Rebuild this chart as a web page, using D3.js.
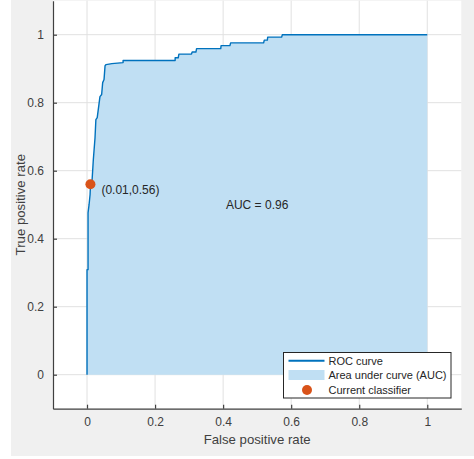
<!DOCTYPE html>
<html>
<head>
<meta charset="utf-8">
<script src="https://cdn.jsdelivr.net/npm/d3@7"></script>
<style>
  html, body { margin: 0; padding: 0; background: #fff; }
  svg { display: block; font-family: "Liberation Sans", Arial, Helvetica, sans-serif; }
</style>
</head>
<body>
<svg id="chart" width="474" height="459"></svg>
<script>
// ROC curve vertices (false positive rate, true positive rate)
const fpr = [0, 0, 0.003, 0.003, 0.006, 0.009, 0.0103, 0.015, 0.0185, 0.0235, 0.026, 0.03,
  0.038, 0.043, 0.046, 0.05, 0.053, 0.056, 0.073, 0.106, 0.106, 0.259, 0.259, 0.268, 0.270,
  0.307, 0.309, 0.320, 0.322, 0.393, 0.394, 0.420, 0.422, 0.519, 0.521, 0.530, 0.531,
  0.572, 0.574, 1];
const tpr = [0, 0.309, 0.309, 0.476, 0.50, 0.53, 0.56, 0.574, 0.632, 0.697, 0.75, 0.756,
  0.818, 0.824, 0.859, 0.868, 0.909, 0.912, 0.915, 0.918, 0.924, 0.924, 0.932, 0.932, 0.943,
  0.943, 0.949, 0.949, 0.959, 0.959, 0.968, 0.968, 0.976, 0.976, 0.984, 0.984, 0.993,
  0.993, 1.0, 1.0];

// Operating point of the current classifier
const currentPoint = [0.01, 0.56];
const aucValue = 0.96;

const xTicks = [0, 0.2, 0.4, 0.6, 0.8, 1];
const yTicks = [0, 0.2, 0.4, 0.6, 0.8, 1];
const xTickLabels = ["0", "0.2", "0.4", "0.6", "0.8", "1"];
const yTickLabels = ["0", "0.2", "0.4", "0.6", "0.8", "1"];
const legendLabels = ["ROC curve", "Area under curve (AUC)", "Current classifier"];

const svg = d3.select("#chart");

const colors = {
  figure: "#f0f0f0",
  grid: "#e1e1e1",
  axis: "#404040",
  text: "#404040",
  line: "#0072BD",
  area: "#c0dff3",
  point: "#D95319"
};

const x = d3.scaleLinear().domain([-0.1, 1.1]).range([53, 461.3]);
const y = d3.scaleLinear().domain([-0.1, 1.1]).range([408.7, 0.7]);

// figure background
svg.append("rect").attr("x", 11).attr("y", 0).attr("width", 463).attr("height", 456)
  .attr("fill", colors.figure);

// axes background
svg.append("rect")
  .attr("x", x(-0.1)).attr("y", y(1.1))
  .attr("width", x(1.1) - x(-0.1)).attr("height", y(-0.1) - y(1.1))
  .attr("fill", "#fff");

// grid
const grid = svg.append("g");
grid.selectAll(".gx").data(xTicks).join("line")
  .attr("x1", d => x(d)).attr("x2", d => x(d))
  .attr("y1", y(1.1)).attr("y2", y(-0.1))
  .attr("stroke", colors.grid).attr("stroke-width", 1);
grid.selectAll(".gy").data(yTicks).join("line")
  .attr("y1", d => y(d)).attr("y2", d => y(d))
  .attr("x1", x(-0.1)).attr("x2", x(1.1))
  .attr("stroke", colors.grid).attr("stroke-width", 1);

const pts = fpr.map((f, i) => [f, tpr[i]]);

// area under the ROC curve
svg.append("path")
  .datum(pts)
  .attr("d", d3.area().x(d => x(d[0])).y0(y(0)).y1(d => y(d[1])))
  .attr("fill", colors.area);

// ROC curve
svg.append("path")
  .datum(pts)
  .attr("d", d3.line().x(d => x(d[0])).y(d => y(d[1])))
  .attr("fill", "none")
  .attr("stroke", colors.line)
  .attr("stroke-width", 1.4)
  .attr("stroke-linejoin", "round");

// axes (left and bottom only, ticks pointing inward)
const xAxis = d3.axisBottom(x).tickValues(xTicks)
  .tickFormat((d, i) => xTickLabels[i]).tickSizeInner(-4).tickSizeOuter(0).tickPadding(9);
const yAxis = d3.axisLeft(y).tickValues(yTicks)
  .tickFormat((d, i) => yTickLabels[i]).tickSizeInner(-4).tickSizeOuter(0).tickPadding(9);

const gx = svg.append("g").attr("transform", `translate(0,${y(-0.1)})`).call(xAxis);
const gy = svg.append("g").attr("transform", `translate(${x(-0.1)},0)`).call(yAxis);
[gx, gy].forEach(g => {
  g.select(".domain").attr("stroke", colors.axis).attr("stroke-width", 1.2);
  g.selectAll(".tick line").attr("stroke", colors.axis).attr("stroke-width", 1.2);
  g.selectAll(".tick text").attr("fill", colors.text)
    .style("font-size", "12px").style("font-family", "Liberation Sans, Arial, sans-serif");
});

// axis titles
svg.append("text")
  .attr("x", (x(-0.1) + x(1.1)) / 2).attr("y", 444)
  .attr("text-anchor", "middle").attr("font-size", 13.2).attr("fill", colors.text)
  .text("False positive rate");
svg.append("text")
  .attr("transform", `translate(25,${(y(-0.1) + y(1.1)) / 2}) rotate(-90)`)
  .attr("text-anchor", "middle").attr("font-size", 13.2).attr("fill", colors.text)
  .text("True positive rate");

// current classifier marker and its label
svg.append("circle")
  .attr("cx", x(currentPoint[0])).attr("cy", y(currentPoint[1])).attr("r", 5)
  .attr("fill", colors.point);
svg.append("text")
  .attr("x", x(currentPoint[0]) + 11).attr("y", y(currentPoint[1]) + 10)
  .attr("font-size", 12).attr("fill", "#262626")
  .text(`(${currentPoint[0].toFixed(2)},${currentPoint[1].toFixed(2)})`);

// AUC annotation
svg.append("text")
  .attr("x", x(0.5)).attr("y", y(0.5) + 4.5)
  .attr("text-anchor", "middle").attr("font-size", 12).attr("fill", "#262626")
  .text(`AUC = ${aucValue.toFixed(2)}`);

// legend
const lg = svg.append("g").attr("transform", "translate(283.5,352.5)");
lg.append("rect").attr("width", 167.5).attr("height", 45.5)
  .attr("fill", "#fff").attr("stroke", "#262626").attr("stroke-width", 1);
lg.append("line").attr("x1", 5).attr("x2", 41).attr("y1", 8.3).attr("y2", 8.3)
  .attr("stroke", colors.line).attr("stroke-width", 2);
lg.append("rect").attr("x", 5).attr("y", 17.5).attr("width", 36).attr("height", 10)
  .attr("fill", colors.area);
lg.append("circle").attr("cx", 23.5).attr("cy", 37.5).attr("r", 5).attr("fill", colors.point);
lg.selectAll(".lt").data(legendLabels).join("text")
  .attr("x", 45).attr("y", (d, i) => 12 + i * 14.6)
  .attr("font-size", 11).attr("fill", "#262626")
  .text(d => d);
</script>
</body>
</html>
